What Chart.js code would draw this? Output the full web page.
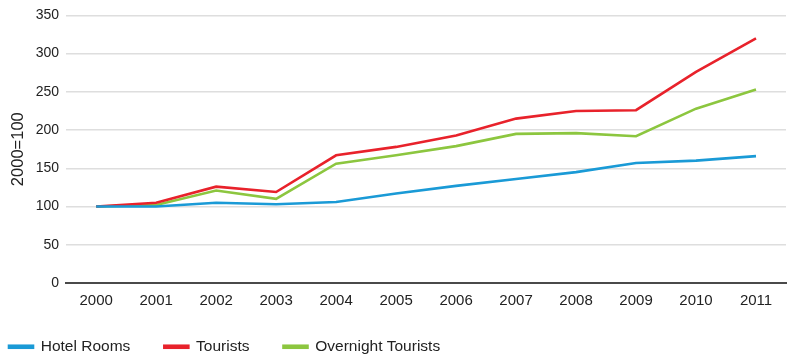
<!DOCTYPE html>
<html>
<head>
<meta charset="utf-8">
<script src="https://cdn.jsdelivr.net/npm/chart.js@4/dist/chart.umd.min.js"></script>
<style>
  html, body { margin: 0; padding: 0; background: #fff; }
  #wrap { width: 792px; height: 355px; position: relative; }
</style>
</head>
<body>
<div id="wrap"><canvas id="tourismChart"></canvas></div>
<script>
const years = ['2000', '2001', '2002', '2003', '2004', '2005', '2006', '2007', '2008', '2009', '2010', '2011'];
const hotelRooms = [100, 100, 105, 103, 106, 117, 127, 136, 145, 157, 160, 166];
const tourists = [100, 105, 126, 119, 167, 178, 193, 215, 225, 226, 276, 320];
const overnightTourists = [100, 102, 121, 110, 156, 167, 179, 195, 196, 192, 228, 253];
const yTicks = [0, 50, 100, 150, 200, 250, 300, 350];

const FONT = 'Liberation Sans, Arial, sans-serif';

// legend sits low and flush left, with wide gaps between items
const legendPlacer = {
    id: 'legendPlacer',
    beforeLayout(chart) {
        const lg = chart.legend;
        if (lg && !lg._wrapped) {
            const fit = lg.fit.bind(lg);
            lg.fit = function () {
                fit();
                this.height = 36;
            };
            lg._wrapped = true;
        }
    },
    afterLayout(chart) {
        const lg = chart.legend;
        lg.left -= 34;
        lg.top = 305;
    }
};

document.addEventListener("DOMContentLoaded", function () {
    const ctx = document.getElementById('tourismChart').getContext('2d');

    function lineSet(label, data, color) {
        return {
            label: label,
            data: data,
            borderColor: color,
            backgroundColor: color,
            borderWidth: 2.6,
            pointRadius: 0,
            tension: 0,
            fill: false
        };
    }

    new Chart(ctx, {
        type: 'line',
        data: {
            labels: years,
            datasets: [
                lineSet('Hotel Rooms', hotelRooms, '#1a9ad6'),
                lineSet('Tourists', tourists, '#e8222b'),
                lineSet('Overnight Tourists', overnightTourists, '#8cc63f')
            ]
        },
        options: {
            responsive: true,
            maintainAspectRatio: false,
            animation: false,
            layout: { padding: { top: 13, right: 6, left: 9, bottom: 0 } },
            plugins: {
                legend: {
                    position: 'bottom',
                    align: 'start',
                    labels: {
                        boxWidth: 24,
                        boxHeight: 2,
                        padding: 34,
                        color: '#222',
                        font: { family: FONT, size: 15.5 }
                    }
                },
                tooltip: { enabled: false }
            },
            scales: {
                x: {
                    offset: true,
                    grid: { display: false, drawTicks: false },
                    border: { color: '#4a4a4a', width: 2 },
                    ticks: {
                        color: '#222',
                        padding: 9,
                        maxRotation: 0,
                        font: { family: FONT, size: 15 }
                    }
                },
                y: {
                    min: 0,
                    max: 350,
                    afterBuildTicks: function (axis) {
                        axis.ticks = yTicks.map(v => ({ value: v }));
                    },
                    grid: { color: '#dedede', lineWidth: 1.5, drawTicks: false },
                    border: { display: false },
                    ticks: {
                        color: '#222',
                        padding: 7,
                        font: { family: FONT, size: 14 }
                    },
                    title: {
                        display: true,
                        text: '2000=100',
                        color: '#222',
                        padding: { top: 0, bottom: 0 },
                        font: { family: FONT, size: 16.5 }
                    }
                }
            }
        },
        plugins: [legendPlacer]
    });
});
</script>
</body>
</html>
